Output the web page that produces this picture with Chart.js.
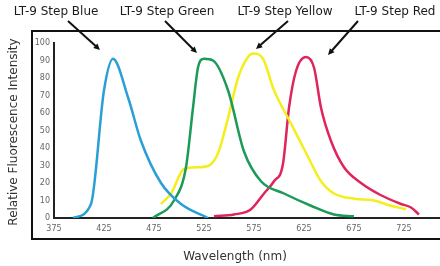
<!DOCTYPE html>
<html>
<head>
<meta charset="utf-8">
<script src="https://cdn.jsdelivr.net/npm/chart.js@4.4.0/dist/chart.umd.min.js"></script>
<style>
  html, body { margin: 0; padding: 0; background: #fff; }
  #wrap { width: 440px; height: 266px; position: relative; }
</style>
</head>
<body>
<div id="wrap"><canvas id="chart" width="440" height="266"></canvas></div>
<script>
// wavelength (nm) / relative intensity
const blueNm = [394, 412, 425, 434, 449, 462, 482, 502, 529];
const blueVal = [0, 8, 73, 91, 69, 44, 20, 8, 0];

const greenNm = [474, 495, 507, 514, 519, 525, 534, 549, 565, 582, 605, 632, 655, 675];
const greenVal = [0, 10, 29, 63, 86, 91, 90, 73, 38, 21, 14, 7, 2, 1];

const yellowNm = [482, 492, 505, 519, 530, 539, 549, 559, 569, 574, 584, 595, 612, 629, 642, 655, 675, 695, 712, 727];
const yellowVal = [8, 14, 28, 29, 30, 37, 57, 80, 92, 94, 91, 73, 54, 35, 21, 14, 11, 10, 7, 5];

const redNm = [535, 555, 572, 585, 595, 604, 610, 617, 627, 635, 642, 652, 665, 682, 702, 722, 732, 740];
const redVal = [1, 2, 5, 14, 21, 31, 63, 84, 92, 86, 63, 44, 29, 20, 13, 8, 6, 2];

const seriesNames = ['LT-9 Step Blue', 'LT-9 Step Green', 'LT-9 Step Yellow', 'LT-9 Step Red'];
const seriesColors = ['#2a9fd6', '#1b9a58', '#f4ee1c', '#e0245c'];

const xTicks = [375, 425, 475, 525, 575, 625, 675, 725];
const yTicks = [0, 10, 20, 30, 40, 50, 60, 70, 80, 90, 100];

function toPoints(xs, ys) {
  return xs.map((x, i) => ({ x: x, y: ys[i] }));
}

const allSeries = [
  toPoints(blueNm, blueVal),
  toPoints(greenNm, greenVal),
  toPoints(yellowNm, yellowVal),
  toPoints(redNm, redVal)
];

// label centre x and arrow start/end for each series header
const headerX = [56, 167, 285, 395];
const arrows = [
  [68, 21, 100, 50],
  [165, 21, 197, 53],
  [288, 21, 256, 49],
  [358, 21, 328, 55]
];

const FONT = '"DejaVu Sans", "Liberation Sans", sans-serif';

function drawArrow(ctx, x1, y1, x2, y2) {
  const ang = Math.atan2(y2 - y1, x2 - x1);
  const head = 7;
  ctx.beginPath();
  ctx.moveTo(x1, y1);
  ctx.lineTo(x2 - Math.cos(ang) * 4, y2 - Math.sin(ang) * 4);
  ctx.stroke();
  ctx.beginPath();
  ctx.moveTo(x2, y2);
  ctx.lineTo(x2 - head * Math.cos(ang - 0.45), y2 - head * Math.sin(ang - 0.45));
  ctx.lineTo(x2 - head * Math.cos(ang + 0.45), y2 - head * Math.sin(ang + 0.45));
  ctx.closePath();
  ctx.fill();
}

const decorPlugin = {
  id: 'decor',
  beforeDraw(chart) {
    const ctx = chart.ctx;
    ctx.save();
    ctx.fillStyle = '#fff';
    ctx.fillRect(0, 0, chart.width, chart.height);
    // outer frame
    ctx.strokeStyle = '#111';
    ctx.lineWidth = 2;
    ctx.strokeRect(32, 31, 420, 208);
    ctx.restore();
  },
  afterDraw(chart) {
    const ctx = chart.ctx;
    ctx.save();
    ctx.fillStyle = '#1a1a1a';
    ctx.font = '12px ' + FONT;
    ctx.textAlign = 'center';
    ctx.textBaseline = 'middle';
    seriesNames.forEach((name, i) => ctx.fillText(name, headerX[i], 12));

    ctx.strokeStyle = '#111';
    ctx.fillStyle = '#111';
    ctx.lineWidth = 2;
    arrows.forEach(a => drawArrow(ctx, a[0], a[1], a[2], a[3]));

    // axis titles
    ctx.fillStyle = '#333';
    ctx.font = '12px ' + FONT;
    ctx.fillText('Wavelength (nm)', 235, 257);
    ctx.translate(14, 132);
    ctx.rotate(-Math.PI / 2);
    ctx.fillText('Relative Fluorescence Intensity', 0, 0);
    ctx.restore();
  }
};

new Chart(document.getElementById('chart'), {
  type: 'line',
  data: {
    datasets: allSeries.map((pts, i) => ({
      label: seriesNames[i],
      data: pts,
      borderColor: seriesColors[i],
      backgroundColor: seriesColors[i],
      borderWidth: 2.5,
      pointRadius: 0,
      cubicInterpolationMode: 'monotone',
      fill: false
    }))
  },
  options: {
    responsive: false,
    animation: false,
    layout: { padding: { left: 32, top: 43, right: 0, bottom: 0 } },
    plugins: { legend: { display: false }, tooltip: { enabled: false } },
    scales: {
      x: {
        type: 'linear',
        min: 375,
        max: 761,
        afterBuildTicks: s => { s.ticks = xTicks.map(v => ({ value: v })); },
        afterFit: s => { s.height = 48; },
        grid: { display: false, drawTicks: false },
        border: { display: true, color: '#222', width: 2 },
        ticks: {
          color: '#666',
          font: { size: 8, family: 'DejaVu Sans' },
          padding: 6,
          maxRotation: 0,
          autoSkip: false
        }
      },
      y: {
        min: 0,
        max: 100,
        afterBuildTicks: s => { s.ticks = yTicks.map(v => ({ value: v })); },
        afterFit: s => { s.width = 22; },
        grid: { display: false, drawTicks: false },
        border: { display: true, color: '#222', width: 2 },
        ticks: {
          color: '#666',
          font: { size: 8, family: 'DejaVu Sans' },
          padding: 4,
          autoSkip: false
        }
      }
    }
  },
  plugins: [decorPlugin]
});
</script>
</body>
</html>
